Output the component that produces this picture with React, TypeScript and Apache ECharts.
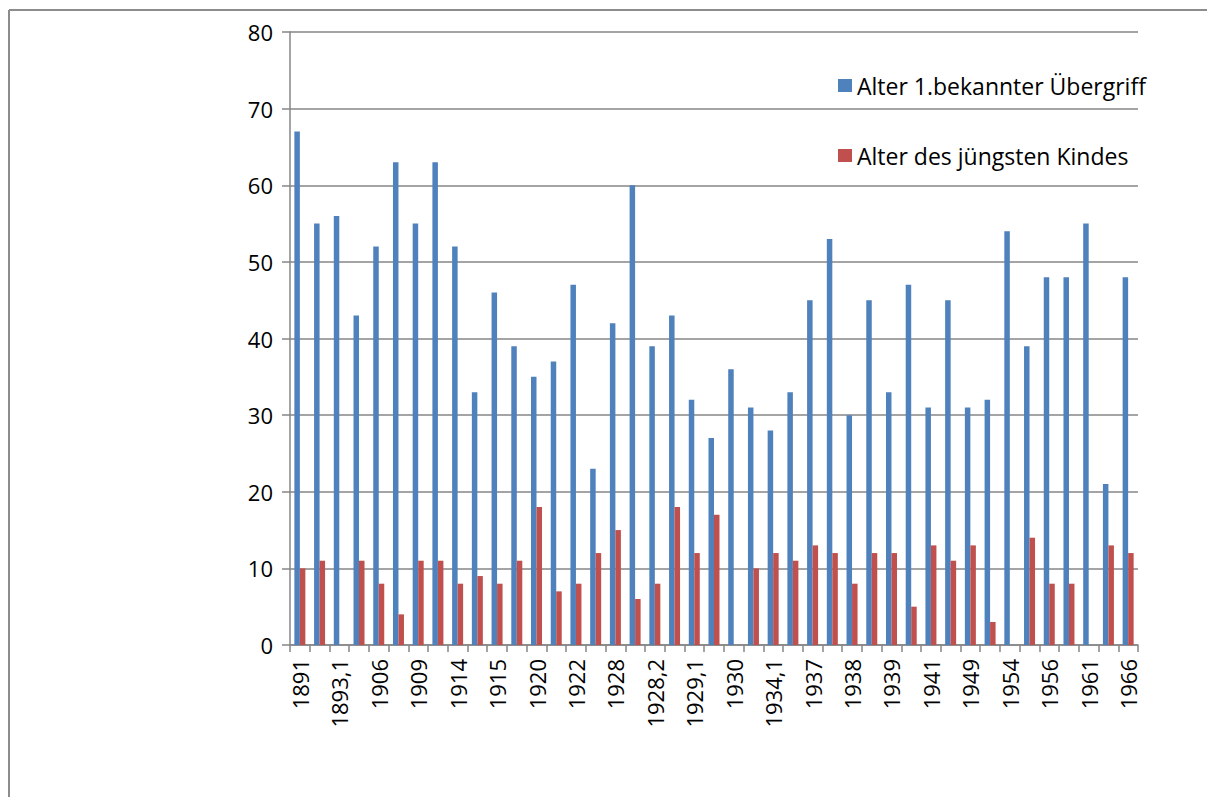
import React, { useEffect, useRef } from "react";
import * as echarts from "echarts";

const categories: string[] = [
  "1891", "1893", "1893,1", "1900", "1906", "1908", "1909", "1910", "1914", "1914,1",
  "1915", "1918", "1920", "1921", "1922", "1925", "1928", "1928,1", "1928,2", "1929",
  "1929,1", "1929,2", "1930", "1934", "1934,1", "1935", "1937", "1937,1", "1938", "1938,1",
  "1939", "1940", "1941", "1945", "1949", "1950", "1954", "1955", "1956", "1960",
  "1961", "1965", "1966",
];

const alterErsterUebergriff: number[] = [
  67, 55, 56, 43, 52, 63, 55, 63, 52, 33,
  46, 39, 35, 37, 47, 23, 42, 60, 39, 43,
  32, 27, 36, 31, 28, 33, 45, 53, 30, 45,
  33, 47, 31, 45, 31, 32, 54, 39, 48, 48,
  55, 21, 48,
];

const alterJuengstesKind: number[] = [
  10, 11, 0, 11, 8, 4, 11, 11, 8, 9,
  8, 11, 18, 7, 8, 12, 15, 6, 8, 18,
  12, 17, 0, 10, 12, 11, 13, 12, 8, 12,
  12, 5, 13, 11, 13, 3, 0, 14, 8, 8,
  0, 13, 12,
];

const seriesNames: string[] = ["Alter 1.bekannter Übergriff", "Alter des jüngsten Kindes"];

const FONT = "'Open Sans', 'Noto Sans', sans-serif";
const GRAY = "#868686";

export default function App() {
  const ref = useRef<HTMLDivElement>(null);

  useEffect(() => {
    if (!ref.current) return;
    const chart = echarts.init(ref.current, undefined, { renderer: "svg" });
    chart.setOption({
      animation: false,
      backgroundColor: "#ffffff",
      textStyle: { fontFamily: FONT },
      graphic: [
        {
          type: "line",
          shape: { x1: 1, y1: 2, x2: 1400, y2: 2 },
          style: { stroke: "#8c8c8c", lineWidth: 2 },
          silent: true,
        },
        {
          type: "line",
          shape: { x1: 1, y1: 2, x2: 1, y2: 1000 },
          style: { stroke: "#8c8c8c", lineWidth: 2 },
          silent: true,
        },
      ],
      grid: {
        left: 282,
        right: 77,
        top: 24,
        bottom: 152,
        containLabel: false,
        outerBoundsMode: "none",
      },
      legend: {
        orient: "vertical",
        left: 830,
        top: 66,
        padding: 0,
        itemGap: 47,
        itemWidth: 14,
        itemHeight: 13,
        icon: "rect",
        textStyle: { fontFamily: FONT, fontSize: 23, color: "#000" },
        data: seriesNames,
      },
      xAxis: {
        type: "category",
        data: categories,
        boundaryGap: true,
        axisLine: { lineStyle: { color: GRAY, width: 1.5 } },
        axisTick: { show: true, interval: 0, length: 7, lineStyle: { color: GRAY, width: 1.5 } },
        axisLabel: {
          interval: 1,
          rotate: 90,
          margin: 14,
          color: "#000",
          fontFamily: FONT,
          fontSize: 22,
        },
        splitLine: { show: false },
      },
      yAxis: {
        type: "value",
        min: 0,
        max: 80,
        interval: 10,
        axisLine: { show: true, lineStyle: { color: GRAY, width: 1.5 } },
        axisTick: { show: true, length: 8, lineStyle: { color: GRAY, width: 1.5 } },
        axisLabel: { margin: 17, color: "#000", fontFamily: FONT, fontSize: 22 },
        splitLine: { show: true, lineStyle: { color: GRAY, width: 1.5 } },
      },
      series: [
        {
          name: seriesNames[0],
          type: "bar",
          data: alterErsterUebergriff,
          barWidth: 5.5,
          barGap: "0%",
          itemStyle: { color: "#4F81BD" },
        },
        {
          name: seriesNames[1],
          type: "bar",
          data: alterJuengstesKind,
          barWidth: 5.5,
          barGap: "0%",
          itemStyle: { color: "#C0504D" },
        },
      ],
    });
    return () => chart.dispose();
  }, []);

  return <div ref={ref} style={{ width: 1207, height: 789 }} />;
}
